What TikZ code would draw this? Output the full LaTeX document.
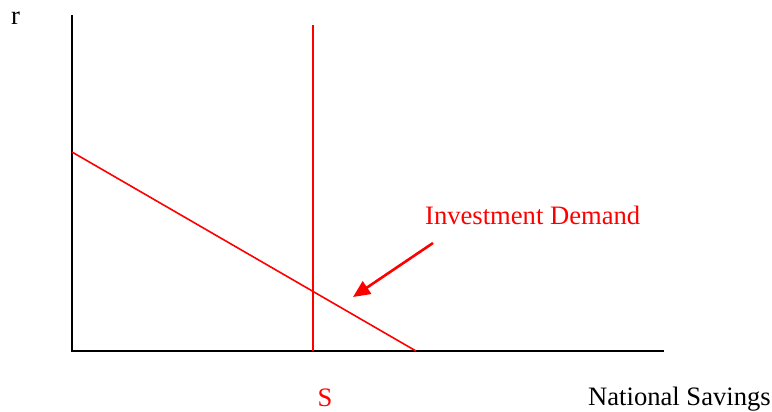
\documentclass[tikz,border=0pt]{standalone}
\usepackage{fontspec}
\setmainfont{Liberation Serif}
\usetikzlibrary{arrows.meta}
\definecolor{rd}{RGB}{255,0,0}
\begin{document}
\begin{tikzpicture}[x=1pt,y=-1pt,
  axis/.style={line width=2pt,black},
  curve/.style={line width=1.6pt,rd},
  pointer/.style={line width=2.6pt,rd,-{Triangle[length=17pt,width=15pt]}},
  lbl/.style={inner sep=0pt,font=\fontsize{26.6}{30}\selectfont},
  rlbl/.style={lbl,text=rd}]
\useasboundingbox (0,0) rectangle (772,412);
\coordinate (ytop) at (72,15);
\coordinate (origin) at (72,351);
\coordinate (xend) at (664,351);
\coordinate (stop) at (313,25);
\coordinate (sbot) at (313,351);
\coordinate (dtop) at (72,152);
\coordinate (dbot) at (416,351);
\coordinate (atail) at (433,243);
\coordinate (ahead) at (353,297);
\draw[axis] (ytop) -- (origin) -- (xend);
\draw[curve] (stop) -- (sbot);
\draw[curve] (dtop) -- (dbot);
\draw[pointer] (atail) -- (ahead);
\node[lbl,anchor=base west] (r) at (11,25) {r};
\node[rlbl,anchor=base west] (inv) at (425,224) {Investment Demand};
\node[rlbl,anchor=base] (s) at (325,406) {S};
\node[lbl,anchor=base west] (ns) at (588,405) {National Savings};
\end{tikzpicture}
\end{document}
